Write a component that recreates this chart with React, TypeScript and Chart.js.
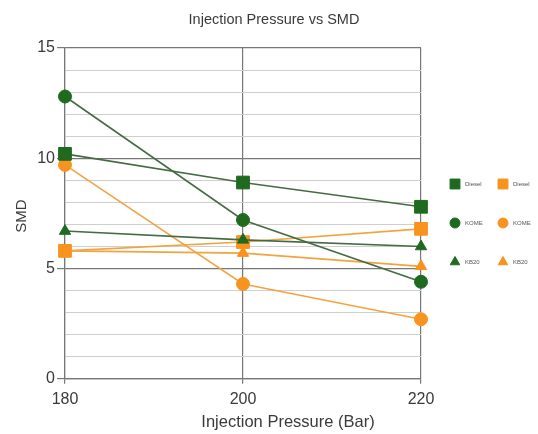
import React, { useEffect, useRef } from "react";
import { Chart, registerables } from "chart.js";
import { drawPoint } from "chart.js/helpers";

Chart.register(...registerables);

const pressures = [180, 200, 220];
const dieselGreen = [10.2, 8.9, 7.8];
const komeGreen = [12.8, 7.2, 4.4];
const kb20Green = [6.7, 6.3, 6.0];
const dieselOrange = [5.8, 6.2, 6.8];
const komeOrange = [9.7, 4.3, 2.7];
const kb20Orange = [5.8, 5.7, 5.1];
const seriesLabels = ["Diesel", "KOME", "KB20", "Diesel", "KOME", "KB20"];
const xTicks = [180, 200, 220];
const yMajor = [0, 5, 10, 15];
const chartTitle = "Injection Pressure vs SMD";
const xTitle = "Injection Pressure (Bar)";
const yTitle = "SMD";

const GREEN = "#1f6a1f";
const GREEN_LINE = "#456b45";
const ORANGE = "#f7931e";
const ORANGE_LINE = "#f3a440";
const FONT = "'Liberation Sans', Arial, sans-serif";
const TEXT = "#3a3a3a";

const toPts = (vals: number[]) => pressures.map((x, i) => ({ x, y: vals[i] }));

const textPlugin = {
  id: "texts",
  afterDraw(chart: any) {
    const ctx = chart.ctx;
    ctx.save();
    ctx.fillStyle = TEXT;
    ctx.textAlign = "center";
    ctx.textBaseline = "middle";
    ctx.font = `14.5px ${FONT}`;
    ctx.fillText(chartTitle, 274, 20);
    ctx.font = `16.5px ${FONT}`;
    ctx.fillText(xTitle, 288, 422);
    ctx.translate(22, 216);
    ctx.rotate(-Math.PI / 2);
    ctx.font = `15px ${FONT}`;
    ctx.fillText(yTitle, 0, 0);
    ctx.restore();

    const ds = chart.data.datasets;
    ctx.save();
    ds.forEach((d: any, i: number) => {
      const col = i < 3 ? 0 : 1;
      const row = i % 3;
      const x = 455 + col * 48;
      const y = 184 + row * 39;
      ctx.fillStyle = d.pointBackgroundColor;
      ctx.strokeStyle = d.pointBorderColor;
      ctx.lineWidth = 1;
      const r = d.pointStyle === "rect" ? 7 : d.pointStyle === "circle" ? 5 : 5.5;
      drawPoint(ctx, { pointStyle: d.pointStyle, rotation: 0, borderWidth: 1, radius: r } as any, x, y);
      ctx.fillStyle = "#555";
      ctx.font = `6px ${FONT}`;
      ctx.textBaseline = "middle";
      ctx.textAlign = "left";
      ctx.fillText(d.label, x + 10, y);
    });
    ctx.restore();
  },
};

export default function App() {
  const ref = useRef<HTMLCanvasElement>(null);
  useEffect(() => {
    if (!ref.current) return;
    const mk = (label: string, vals: number[], fill: string, line: string, style: string, r: number) => ({
      label,
      data: toPts(vals),
      borderColor: line,
      borderWidth: 1.6,
      pointStyle: style,
      pointRadius: r,
      pointBackgroundColor: fill,
      pointBorderColor: fill,
      pointBorderWidth: 1,
      tension: 0,
      fill: false,
      clip: false,
    });
    const chart = new Chart(ref.current, {
      type: "line",
      data: {
        datasets: [
          mk(seriesLabels[0], dieselGreen, GREEN, GREEN_LINE, "rect", 9),
          mk(seriesLabels[1], komeGreen, GREEN, GREEN_LINE, "circle", 6.5),
          mk(seriesLabels[2], kb20Green, GREEN, GREEN_LINE, "triangle", 6.5),
          mk(seriesLabels[3], dieselOrange, ORANGE, ORANGE_LINE, "rect", 9),
          mk(seriesLabels[4], komeOrange, ORANGE, ORANGE_LINE, "circle", 6.5),
          mk(seriesLabels[5], kb20Orange, ORANGE, ORANGE_LINE, "triangle", 6.5),
        ] as any,
      },
      options: {
        animation: false,
        responsive: false,
        layout: { padding: { left: 37, right: 117, top: 48, bottom: 19 } },
        plugins: {
          legend: { display: false },
          tooltip: { enabled: false },
          title: { display: false },
        },
        scales: {
          x: {
            type: "linear",
            min: xTicks[0],
            max: xTicks[xTicks.length - 1],
            afterBuildTicks: (axis: any) => {
              axis.ticks = xTicks.map((v) => ({ value: v }));
            },
            ticks: { color: TEXT, font: { family: FONT, size: 16 }, padding: 6 },
            grid: { color: "#777", lineWidth: 1.2, tickLength: 5 },
            border: { color: "#777", width: 1.2 },
            title: { display: false },
          },
          y: {
            type: "linear",
            min: 0,
            max: 15,
            afterFit: (axis: any) => {
              axis.width = 28;
            },
            ticks: {
              stepSize: 1,
              autoSkip: false,
              color: TEXT,
              font: { family: FONT, size: 16 },
              padding: 2,
              callback: (v: any) => (yMajor.includes(Number(v)) ? String(v) : ""),
            },
            grid: {
              color: (c: any) => (c.tick && yMajor.includes(c.tick.value) ? "#777" : "#cfcfcf"),
              lineWidth: (c: any) => (c.tick && yMajor.includes(c.tick.value) ? 1.2 : 1),
              tickLength: 8,
              tickColor: (c: any) => (c.tick && yMajor.includes(c.tick.value) ? "#777" : "rgba(0,0,0,0)"),
            } as any,
            border: { color: "#777", width: 1.2 },
            title: { display: false },
          },
        },
      },
      plugins: [textPlugin],
    });
    return () => chart.destroy();
  }, []);
  return (
    <div style={{ position: "fixed", left: 0, top: 0, width: 538, height: 434, background: "#fff" }}>
      <canvas ref={ref} width={538} height={434} style={{ width: 538, height: 434 }} />
    </div>
  );
}
